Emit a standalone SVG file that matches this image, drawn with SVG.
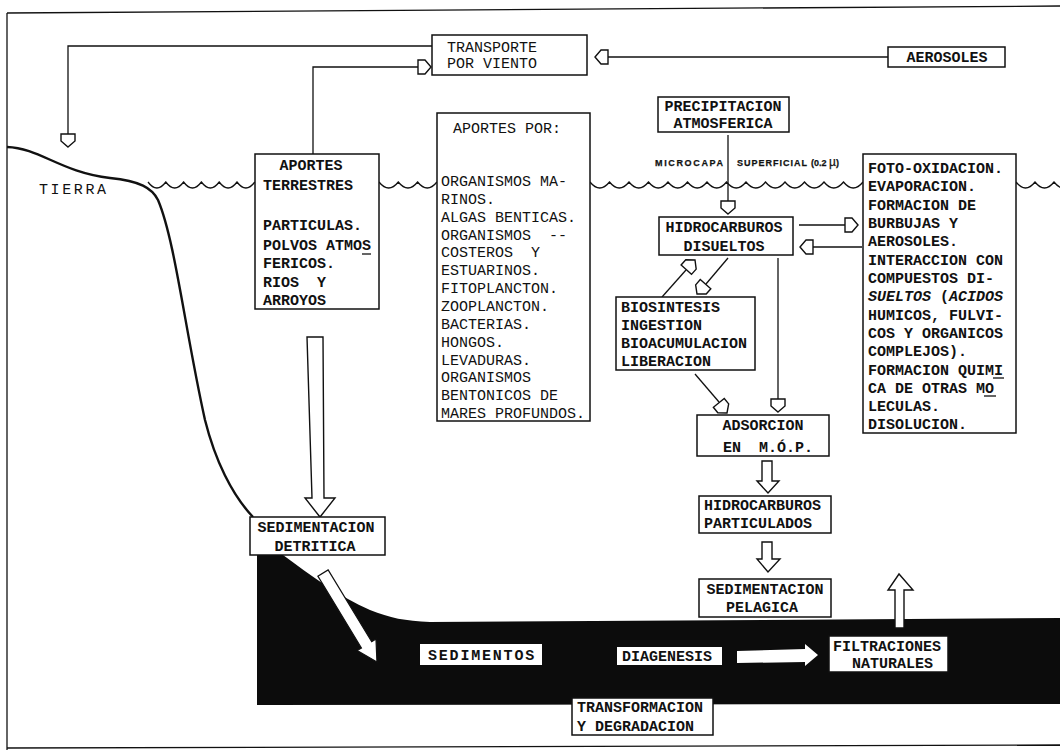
<svg xmlns="http://www.w3.org/2000/svg" xmlns:xlink="http://www.w3.org/1999/xlink" width="1060" height="750" viewBox="0 0 1060 750">
<style>
.t{font-family:"Liberation Mono","DejaVu Sans Mono",monospace;font-size:15px;font-weight:bold;fill:#111}
.r{font-weight:normal}
.c{text-anchor:middle}
.s{font-family:"Liberation Sans","DejaVu Sans",sans-serif;font-size:9px;font-weight:bold;fill:#111;stroke:#111;stroke-width:0.25}
.box{fill:#fff;stroke:#111;stroke-width:1.5}
.ln{fill:none;stroke:#111;stroke-width:1.3}
.hol{fill:#fff;stroke:#111;stroke-width:1.4;stroke-linejoin:miter}
.wh{fill:#fff;stroke:none}
.ul{stroke:#111;stroke-width:1.3}
</style>
<defs>
<path id="ah" d="M0,0 L-6,-7 L-13,-7 L-13,7 L-6,7 Z" fill="#fff" stroke="#111" stroke-width="1.4"/>
</defs>
<rect x="0" y="0" width="1060" height="750" fill="#fff"/>
<!-- frame -->
<g id="frame" class="ln">
<path d="M7,13 L1060,6"/>
<path d="M7,13 L7,750"/>
<path d="M7,748 L1060,745"/>
</g>
<!-- scene: land, sea surface, sediments -->
<g id="scene">
<path d="M257,555 L283,555 C310,575 340,597 370,610 C390,618 405,621 430,622 L1060,618 L1060,704 L257,705 Z" fill="#0c0c0c"/>
<path d="M7,147 C40,148 60,172 110,178 C140,181 152,188 158,200 C175,240 185,330 205,420 C215,460 232,495 253,517" fill="none" stroke="#111" stroke-width="2.4"/>
<path class="ln" d="M148,182 q8.9,12 17.8,0 q8.9,12 17.8,0 q8.9,12 17.8,0 q8.9,12 17.8,0 q8.9,12 17.8,0 q8.9,12 17.8,0"/>
<path class="ln" d="M379,182 q9.7,12 19.3,0 q9.7,12 19.3,0 q9.7,12 19.3,0"/>
<path class="ln" d="M590,182 q9.75,12 19.5,0 q9.75,12 19.5,0 q9.75,12 19.5,0 q9.75,12 19.5,0 q9.75,12 19.5,0 q9.75,12 19.5,0 q9.75,12 19.5,0 q9.75,12 19.5,0 q9.75,12 19.5,0 q9.75,12 19.5,0 q9.75,12 19.5,0 q9.75,12 19.5,0 q9.75,12 19.5,0 q9.75,12 19.5,0"/>
<path class="ln" d="M1016,182 q9.5,12 19,0 q9.5,12 19,0 q9.5,12 19,0"/>
<text class="t r" x="39" y="194" font-size="14" letter-spacing="2.6">TIERRA</text>
<text class="s" x="655" y="166" textLength="68" lengthAdjust="spacing">MICROCAPA</text>
<text class="s" x="737" y="166" textLength="70" lengthAdjust="spacing">SUPERFICIAL</text>
<text class="s" x="811" y="166">(0.2 <tspan font-size="12" font-weight="normal">µ</tspan>)</text>
</g>
<!-- connectors -->
<g id="connectors">
<path class="ln" d="M432,46 L68,46 L68,134"/>
<use xlink:href="#ah" transform="translate(68,147) rotate(90)"/>
<path class="ln" d="M313,155 L313,67 L418,67"/>
<use xlink:href="#ah" transform="translate(431,67)"/>
<path class="ln" d="M888,57 L608,57"/>
<use xlink:href="#ah" transform="translate(595,57) rotate(180)"/>
<path class="ln" d="M728,135 L728,201"/>
<use xlink:href="#ah" transform="translate(728,214) rotate(90)"/>
<path class="ln" d="M799,225 L845,225"/>
<use xlink:href="#ah" transform="translate(858,225)"/>
<path class="ln" d="M862,247 L813,247"/>
<use xlink:href="#ah" transform="translate(800,247) rotate(180)"/>
<path class="ln" d="M662,297 L686,270"/>
<use xlink:href="#ah" transform="translate(695,260) rotate(-48)"/>
<path class="ln" d="M728,258 L706,284"/>
<use xlink:href="#ah" transform="translate(697,294) rotate(131)"/>
<path class="ln" d="M695,374 L719,402"/>
<use xlink:href="#ah" transform="translate(727,413) rotate(51)"/>
<path class="ln" d="M778,258 L778,399"/>
<use xlink:href="#ah" transform="translate(778,412) rotate(90)"/>
<polygon class="hol" points="307,337 323,337 324,498 335,498 320,517 305,498 312,498"/>
<polygon class="hol" points="762,461 772,461 772,481 779,481 768,493 757,481 762,481"/>
<polygon class="hol" points="762,542 772,542 772,559 780,559 768,572 757,559 762,559"/>
<polygon class="hol" points="895,628 895,590 888,590 899,574 913,590 904,590 904,628"/>
<g transform="translate(323,573) rotate(58.75)">
<polygon points="0,-6 84,-6 84,-11 104,0 84,11 84,6 0,6" fill="#fff" stroke="#111" stroke-width="1.2"/>
</g>
<polygon class="wh" points="737,651 805,649 805,644 818,655 805,666 805,662 737,663"/>
</g>
<!-- nodes -->
<g id="transporte">
<rect class="box" x="432" y="35" width="155" height="40"/>
<text class="t r" x="447" y="52">TRANSPORTE</text>
<text class="t r" x="447" y="68">POR VIENTO</text>
</g>
<g id="aerosoles">
<rect class="box" x="888" y="47" width="117" height="20"/>
<text class="t c" x="947" y="62">AEROSOLES</text>
</g>
<g id="precipitacion">
<rect class="box" x="658" y="97" width="131" height="35"/>
<text class="t c" x="723" y="111">PRECIPITACION</text>
<text class="t c" x="723" y="128">ATMOSFERICA</text>
</g>
<g id="aportes-terrestres">
<rect class="box" x="255" y="154" width="124" height="155"/>
<text class="t c" x="311" y="170">APORTES</text>
<text class="t" x="263" y="190">TERRESTRES</text>
<text class="t" x="263" y="230">PARTICULAS.</text>
<text class="t" x="263" y="250">POLVOS ATMOS</text>
<line class="ul" x1="362" y1="254" x2="371" y2="254"/>
<text class="t" x="263" y="268">FERICOS.</text>
<text class="t" x="263" y="287" xml:space="preserve">RIOS  Y</text>
<text class="t" x="263" y="305">ARROYOS</text>
</g>
<g id="aportes-por">
<rect class="box" x="437" y="113" width="153" height="308"/>
<text class="t r" x="453" y="133">APORTES POR:</text>
<text class="t r" x="441" y="186">ORGANISMOS MA-</text>
<text class="t r" x="441" y="204">RINOS.</text>
<text class="t r" x="441" y="222">ALGAS BENTICAS.</text>
<text class="t r" x="441" y="240" xml:space="preserve">ORGANISMOS  --</text>
<text class="t r" x="441" y="257" xml:space="preserve">COSTEROS  Y</text>
<text class="t r" x="441" y="275">ESTUARINOS.</text>
<text class="t r" x="441" y="293">FITOPLANCTON.</text>
<text class="t r" x="441" y="311">ZOOPLANCTON.</text>
<text class="t r" x="441" y="329">BACTERIAS.</text>
<text class="t r" x="441" y="347">HONGOS.</text>
<text class="t r" x="441" y="365">LEVADURAS.</text>
<text class="t r" x="441" y="382">ORGANISMOS</text>
<text class="t r" x="441" y="400">BENTONICOS DE</text>
<text class="t r" x="441" y="418">MARES PROFUNDOS.</text>
</g>
<g id="hidrocarburos-disueltos">
<rect class="box" x="659" y="217" width="134" height="38"/>
<text class="t c" x="724" y="232">HIDROCARBUROS</text>
<text class="t c" x="724" y="251">DISUELTOS</text>
</g>
<g id="procesos">
<rect class="box" x="863" y="154" width="153" height="279"/>
<text class="t" x="868" y="173">FOTO-OXIDACION.</text>
<text class="t" x="868" y="191">EVAPORACION.</text>
<text class="t" x="868" y="210">FORMACION DE</text>
<text class="t" x="868" y="228">BURBUJAS Y</text>
<text class="t" x="868" y="246">AEROSOLES.</text>
<text class="t" x="868" y="265">INTERACCION CON</text>
<text class="t" x="868" y="283">COMPUESTOS DI-</text>
<text class="t" x="868" y="301"><tspan font-style="italic">SUELTOS</tspan> (<tspan font-style="italic">ACIDOS</tspan></text>
<text class="t" x="868" y="320">HUMICOS, FULVI-</text>
<text class="t" x="868" y="338">COS Y ORGANICOS</text>
<text class="t" x="868" y="356">COMPLEJOS).</text>
<text class="t" x="868" y="375">FORMACION QUIMI</text>
<line class="ul" x1="993" y1="378" x2="1004" y2="378"/>
<text class="t" x="868" y="393">CA DE OTRAS MO</text>
<line class="ul" x1="984" y1="396" x2="996" y2="396"/>
<text class="t" x="868" y="411">LECULAS.</text>
<text class="t" x="868" y="429">DISOLUCION.</text>
</g>
<g id="biosintesis">
<rect class="box" x="616" y="297" width="139" height="73"/>
<text class="t" x="621" y="312">BIOSINTESIS</text>
<text class="t" x="621" y="330">INGESTION</text>
<text class="t" x="621" y="348">BIOACUMULACION</text>
<text class="t" x="621" y="366">LIBERACION</text>
</g>
<g id="adsorcion">
<rect class="box" x="697" y="415" width="132" height="41"/>
<text class="t c" x="763" y="430">ADSORCION</text>
<text class="t" x="723" y="452" xml:space="preserve">EN  M.Ó.P.</text>
</g>
<g id="hidrocarburos-particulados">
<rect class="box" x="699" y="496" width="132" height="37"/>
<text class="t" x="704" y="510">HIDROCARBUROS</text>
<text class="t" x="704" y="528">PARTICULADOS</text>
</g>
<g id="sedimentacion-pelagica">
<rect class="box" x="699" y="579" width="132" height="38"/>
<text class="t c" x="765" y="594">SEDIMENTACION</text>
<text class="t c" x="762" y="612">PELAGICA</text>
</g>
<g id="sedimentacion-detritica">
<rect class="box" x="250" y="517" width="135" height="38"/>
<text class="t c" x="316" y="532">SEDIMENTACION</text>
<text class="t c" x="315" y="551">DETRITICA</text>
</g>
<g id="sedimentos">
<rect class="wh" x="420" y="644" width="122" height="21"/>
<text class="t" x="428" y="660" letter-spacing="1.8">SEDIMENTOS</text>
</g>
<g id="diagenesis">
<rect class="wh" x="617" y="647" width="105" height="18"/>
<text class="t" x="622" y="661">DIAGENESIS</text>
</g>
<g id="filtraciones">
<rect class="box" x="829" y="636" width="119" height="36"/>
<text class="t" x="833" y="651">FILTRACIONES</text>
<text class="t" x="852" y="668">NATURALES</text>
</g>
<g id="transformacion">
<rect class="box" x="572" y="698" width="141" height="37"/>
<text class="t" x="577" y="712">TRANSFORMACION</text>
<text class="t" x="577" y="731">Y DEGRADACION</text>
</g>
</svg>
